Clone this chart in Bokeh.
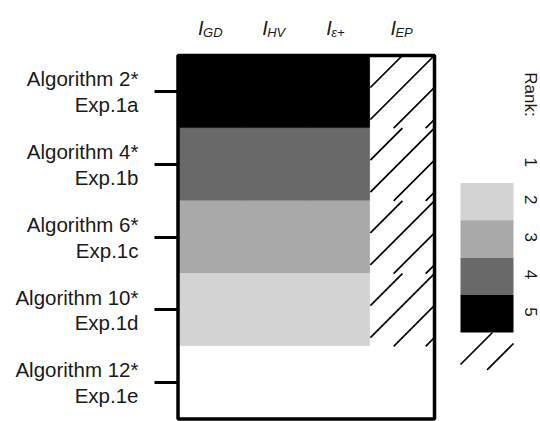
import numpy as np
from bokeh.plotting import figure
from bokeh.models import Range1d, FixedTicker, ColumnDataSource
from bokeh.core.properties import value
from bokeh.embed import file_html
from bokeh.resources import INLINE

# ---- data -------------------------------------------------------------
algorithms = ["Algorithm 2*", "Algorithm 4*", "Algorithm 6*", "Algorithm 10*", "Algorithm 12*"]
experiments = ["Exp.1a", "Exp.1b", "Exp.1c", "Exp.1d", "Exp.1e"]
indicators = ["GD", "HV", "ε+", "EP"]
rank_gd = [5, 4, 3, 2, 1]
rank_hv = [5, 4, 3, 2, 1]
rank_eps = [5, 4, 3, 2, 1]
rank_ep = [None, None, None, None, 1]   # None = not available (hatched)
rank_levels = [1, 2, 3, 4, 5]
rank_colors = ["#FFFFFF", "#D3D3D3", "#A9A9A9", "#696969", "#000000"]

# ---- layout (pixels) --------------------------------------------------
W, H = 540, 421
BOX_L, BOX_R, BOX_T, BOX_B = 177.5, 434.0, 55.0, 418.5
FRAME_L = 175
n_cols, n_rows = len(indicators), len(algorithms)
cw = (BOX_R - BOX_L) / n_cols
rh = (BOX_B - BOX_T) / n_rows
FONT = "Liberation Sans"
TXT = "#1a1a1a"


def dx(px):
    return 0.5 + (px - BOX_L) / cw


def dy(py):
    return 0.5 + (py - BOX_T) / rh


def hatch(left, top, w, h, step=32.0):
    """45 degree '/' hatch lines clipped to a pixel box, returned in data units."""
    segs = {"x0": [], "y0": [], "x1": [], "y1": []}
    k = step
    while k < w + h:
        a = max(0.0, k - h)
        b = min(w, k)
        if b > a:
            segs["x0"].append(dx(left + a))
            segs["y0"].append(dy(top + k - a))
            segs["x1"].append(dx(left + b))
            segs["y1"].append(dy(top + k - b))
        k += step
    return segs


p = figure(width=W, height=H,
           x_range=Range1d(dx(FRAME_L), dx(W)),
           y_range=Range1d(dy(H), dy(0)),
           output_backend="svg", toolbar_location=None,
           x_axis_location=None,
           min_border_left=FRAME_L, min_border_right=0,
           min_border_top=0, min_border_bottom=0)
p.outline_line_color = None
p.grid.visible = False
p.background_fill_color = "white"
p.border_fill_color = "white"

# ---- rank cells -------------------------------------------------------
columns = [rank_gd, rank_hv, rank_eps, rank_ep]
cells = {"left": [], "right": [], "top": [], "bottom": [], "color": []}
hx = {"x0": [], "y0": [], "x1": [], "y1": []}
for c, col in enumerate(columns, start=1):
    for r, rank in enumerate(col, start=1):
        cells["left"].append(c - 0.5)
        cells["right"].append(c + 0.5)
        cells["top"].append(r - 0.5)
        cells["bottom"].append(r + 0.5)
        if rank is None:
            cells["color"].append("#FFFFFF")
            seg = hatch(BOX_L + (c - 1) * cw, BOX_T + (r - 1) * rh, cw, rh)
            for k in hx:
                hx[k] += seg[k]
        else:
            cells["color"].append(rank_colors[rank_levels.index(rank)])

p.quad(left="left", right="right", top="top", bottom="bottom",
       fill_color="color", line_color="color", line_width=1,
       source=ColumnDataSource(cells))

# ---- legend -----------------------------------------------------------
LEG_L, LEG_R, LEG_T, LEG_H = 460.0, 513.0, 145.0, 37.4
leg = {"left": [], "right": [], "top": [], "bottom": [], "color": [], "ty": [], "label": []}
for i, (lvl, colr) in enumerate(zip(rank_levels, rank_colors)):
    leg["left"].append(dx(LEG_L))
    leg["right"].append(dx(LEG_R))
    leg["top"].append(dy(LEG_T + i * LEG_H))
    leg["bottom"].append(dy(LEG_T + (i + 1) * LEG_H))
    leg["color"].append(colr)
    leg["ty"].append(dy(LEG_T + (i + 0.45) * LEG_H))
    leg["label"].append(str(lvl))
p.quad(left="left", right="right", top="top", bottom="bottom",
       fill_color="color", line_color=None, source=ColumnDataSource(leg))
seg = hatch(LEG_L, LEG_T + len(rank_levels) * LEG_H, LEG_R - LEG_L, LEG_H)
for k in hx:
    hx[k] += seg[k]

p.segment(x0="x0", y0="y0", x1="x1", y1="y1", line_color="black",
          line_width=1.7, source=ColumnDataSource(hx))

p.text(x=[dx(530)] * len(leg["ty"]), y=leg["ty"], text=leg["label"],
       angle=-np.pi / 2, text_font=value(FONT), text_font_size="17px",
       text_color=TXT, text_align="center", text_baseline="middle")
p.text(x=[dx(530)], y=[dy(94)], text=["Rank:"], angle=-np.pi / 2,
       text_font=value(FONT), text_font_size="17px", text_color=TXT,
       text_align="center", text_baseline="middle")

# ---- outline box ------------------------------------------------------
p.quad(left=[0.5], right=[n_cols + 0.5], top=[0.5], bottom=[n_rows + 0.5],
       fill_color=None, line_color="black", line_width=3.5)

# ---- column headers: I with subscript ----------------------------------
hx_pos = list(range(1, n_cols + 1))
p.text(x=hx_pos, y=[dy(27)] * n_cols, text=["I"] * n_cols,
       text_font=value(FONT), text_font_style="italic", text_font_size="20px",
       text_color=TXT, text_align="left", text_baseline="alphabetic", x_offset=-12)
p.text(x=hx_pos, y=[dy(32)] * n_cols, text=indicators,
       text_font=value(FONT), text_font_style="italic", text_font_size="13px",
       text_color=TXT, text_align="left", text_baseline="alphabetic", x_offset=-7)

# ---- row axis -----------------------------------------------------------
ax = p.yaxis[0]
ax.ticker = FixedTicker(ticks=list(range(1, n_rows + 1)))
ax.major_label_overrides = {i + 1: f"{a}\n{e}" for i, (a, e) in enumerate(zip(algorithms, experiments))}
ax.axis_line_color = None
ax.minor_tick_line_color = None
ax.major_tick_out = 21
ax.major_tick_in = 3
ax.major_tick_line_width = 3
ax.major_tick_line_color = "black"
ax.major_label_standoff = 16
ax.major_label_text_font = FONT
ax.major_label_text_font_size = "20.5px"
ax.major_label_text_color = TXT
ax.major_label_text_line_height = 1.12

open("out.html", "w").write(file_html(p, INLINE))
